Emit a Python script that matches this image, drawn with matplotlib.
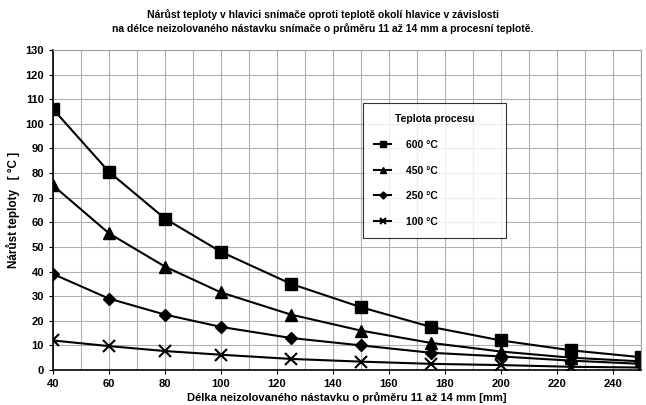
import matplotlib.pyplot as plt
import numpy as np

plt.rcParams['font.family'] = ['Liberation Sans', 'DejaVu Sans']
plt.rcParams['font.weight'] = 'bold'

delka = [40, 60, 80, 100, 125, 150, 175, 200, 225, 250]
t600 = [106, 80.5, 61.5, 48, 35, 25.5, 17.5, 12, 8, 5.2]
t450 = [75, 55.5, 42, 31.5, 22.5, 16, 11, 7.5, 5, 3.5]
t250 = [39, 29, 22.5, 17.5, 13, 10, 7, 5.5, 3.8, 2.5]
t100 = [12, 9.7, 7.7, 6.2, 4.5, 3.4, 2.5, 2, 1.3, 1]

fig = plt.figure(figsize=(6.46, 4.05), dpi=100)
ax = fig.add_axes([53/646, 1 - 370/405, 588/646, 320/405])

ax.plot(delka, t600, color='black', lw=1.5, marker='s', ms=8, label='600 °C')
ax.plot(delka, t450, color='black', lw=1.5, marker='^', ms=8, label='450 °C')
ax.plot(delka, t250, color='black', lw=1.5, marker='D', ms=6, label='250 °C')
ax.plot(delka, t100, color='black', lw=1.5, marker='x', ms=8, mew=1.5, label='100 °C')

ax.set_xlim(40, 250)
ax.set_ylim(0, 130)
ax.set_xticks(np.arange(40, 241, 20))
ax.set_xticks(np.arange(50, 251, 10), minor=True)
ax.set_yticks(np.arange(0, 131, 10))
ax.grid(True, which='both', color='#b0b0b0', lw=0.8)
ax.set_axisbelow(True)
ax.tick_params(which='minor', length=0)
ax.tick_params(labelsize=8, length=3)
for lab in ax.get_xticklabels() + ax.get_yticklabels():
    lab.set_fontweight('bold')

for s in ['top', 'right']:
    ax.spines[s].set_color('#a0a0a0')
ax.spines['left'].set_linewidth(1.2)
ax.spines['bottom'].set_linewidth(1.2)

ax.set_ylabel('Nárůst teploty   [ °C ]', fontsize=8.5, fontweight='bold', labelpad=4)
ax.set_xlabel('Délka neizolovaného nástavku o průměru 11 až 14 mm [mm]', fontsize=8,
              fontweight='bold', labelpad=2)

fig.text(0.5, 0.978, 'Nárůst teploty v hlavici snímače oproti teplotě okolí hlavice v závislosti\n'
         'na délce neizolovaného nástavku snímače o průměru 11 až 14 mm a procesní teplotě.',
         ha='center', va='top', fontsize=7.5, fontweight='bold', linespacing=1.35)

leg = ax.legend(title='Teplota procesu', loc='upper left',
                bbox_to_anchor=(0.527, 0.41, 0.243, 0.425), mode='expand', borderaxespad=0,
                fontsize=7.5, title_fontsize=7.5, frameon=True, fancybox=False,
                edgecolor='black', labelspacing=1.5, borderpad=1.1, handlelength=1.6,
                handletextpad=1.4, markerscale=0.6)
leg.get_frame().set_linewidth(0.8)
leg.get_title().set_fontweight('bold')
for t in leg.get_texts():
    t.set_fontweight('bold')

fig.savefig('out.png', dpi=100)
